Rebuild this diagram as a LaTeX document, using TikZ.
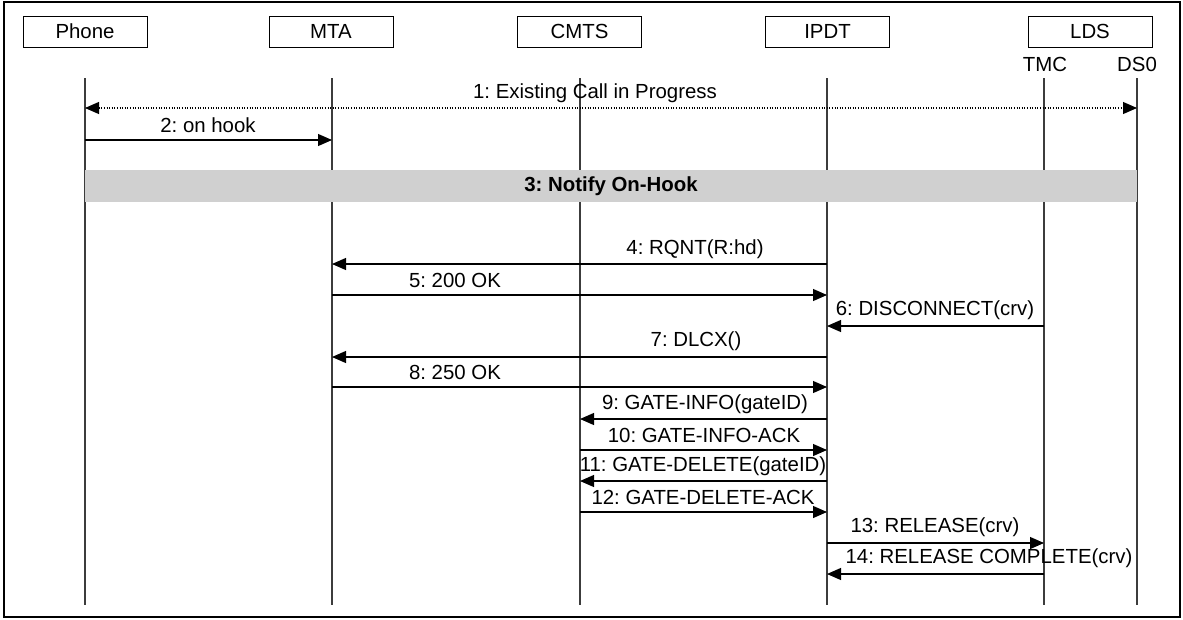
\documentclass[tikz,border=0pt]{standalone}
\usepackage{fontspec}
\setmainfont{Liberation Sans}
\usetikzlibrary{arrows.meta}
\definecolor{barfill}{RGB}{208,208,208}
\definecolor{lifecol}{RGB}{60,60,60}
\tikzset{
  txt/.style={font=\fontsize{20.4pt}{24pt}\selectfont\frenchspacing, inner sep=0pt},
  hdr/.style={txt, draw, line width=1pt, minimum width=124pt, minimum height=31pt},
  life/.style={draw=lifecol, line width=1.1pt},
  msg/.style={line width=1.1pt, -{Triangle[length=14pt,width=12pt]}},
  dmsg/.style={line width=1.1pt, dash pattern=on 1pt off 1.6pt, {Triangle[length=14pt,width=12pt]}-{Triangle[length=14pt,width=12pt]}},
  lbl/.style={txt}
}
\begin{document}
\begin{tikzpicture}[x=1pt, y=-1pt]
\useasboundingbox (0,0) rectangle (1183,619);
\draw[line width=2pt] (4,2) rectangle (1180,617);
% headers
\node[hdr] (hPhone) at (85,31.5) {Phone};
\node[hdr] (hMTA) at (331,31.5) {MTA};
\node[hdr] (hCMTS) at (579.5,31.5) {CMTS};
\node[hdr] (hIPDT) at (827.5,31.5) {IPDT};
\node[hdr] (hLDS) at (1090,31.5) {LDS};
\node[txt] (tTMC) at (1045,64) {TMC};
\node[txt] (tDS0) at (1137,64) {DS0};
% lifeline tops and rows
\coordinate (phone) at (85,78);
\coordinate (mta) at (332,78);
\coordinate (cmts) at (580,78);
\coordinate (ipdt) at (827,78);
\coordinate (tmc) at (1044,78);
\coordinate (ds0) at (1137,78);
\coordinate (bot) at (0,605);
\foreach \n in {phone,mta,cmts,ipdt,tmc,ds0}{
  \draw[life] (\n) -- (\n |- bot);
}
\coordinate (r1) at (0,108);
\coordinate (r2) at (0,140);
\coordinate (r4) at (0,264);
\coordinate (r5) at (0,295);
\coordinate (r6) at (0,326);
\coordinate (r7) at (0,357);
\coordinate (r8) at (0,387);
\coordinate (r9) at (0,419);
\coordinate (r10) at (0,450);
\coordinate (r11) at (0,481);
\coordinate (r12) at (0,512);
\coordinate (r13) at (0,543);
\coordinate (r14) at (0,574);
% 1
\draw[dmsg] (phone |- r1) -- (ds0 |- r1);
\node[lbl] (l1) at (595,93) {1: Existing Call in Progress};
% 2
\draw[msg] (phone |- r2) -- (mta |- r2);
\node[lbl] (l2) at (208,125) {2: on hook};
% 3 bar
\fill[barfill] (85,170) rectangle (1137,202);
\node[txt, font=\fontsize{20.4pt}{24pt}\selectfont\frenchspacing\bfseries] (l3) at (611,186) {3: Notify On-Hook};
% 4..14
\draw[msg] (ipdt |- r4) -- (mta |- r4);
\node[lbl] (l4) at (695,249) {4: RQNT(R:hd)};
\draw[msg] (mta |- r5) -- (ipdt |- r5);
\node[lbl] (l5) at (455,280) {5: 200 OK};
\draw[msg] (tmc |- r6) -- (ipdt |- r6);
\node[lbl] (l6) at (935,310) {6: DISCONNECT(crv)};
\draw[msg] (ipdt |- r7) -- (mta |- r7);
\node[lbl] (l7) at (696,341) {7: DLCX()};
\draw[msg] (mta |- r8) -- (ipdt |- r8);
\node[lbl] (l8) at (455,372) {8: 250 OK};
\draw[msg] (ipdt |- r9) -- (cmts |- r9);
\node[lbl] (l9) at (705,404) {9: GATE-INFO(gateID)};
\draw[msg] (cmts |- r10) -- (ipdt |- r10);
\node[lbl] (l10) at (704,435) {10: GATE-INFO-ACK};
\draw[msg] (ipdt |- r11) -- (cmts |- r11);
\node[lbl] (l11) at (703,466) {11: GATE-DELETE(gateID)};
\draw[msg] (cmts |- r12) -- (ipdt |- r12);
\node[lbl] (l12) at (703,497) {12: GATE-DELETE-ACK};
\draw[msg] (ipdt |- r13) -- (tmc |- r13);
\node[lbl] (l13) at (935,527) {13: RELEASE(crv)};
\draw[msg] (tmc |- r14) -- (ipdt |- r14);
\node[lbl] (l14) at (989,558) {14: RELEASE COMPLETE(crv)};
\end{tikzpicture}
\end{document}
